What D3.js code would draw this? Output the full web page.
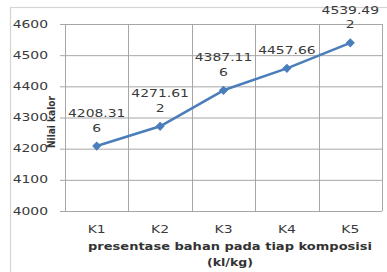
<!DOCTYPE html>
<html>
<head>
<meta charset="utf-8">
<script src="https://cdn.jsdelivr.net/npm/d3@7"></script>
<style>
  html, body { margin: 0; padding: 0; background: #fff; }
  svg { display: block; font-family: "DejaVu Sans", sans-serif; }
</style>
</head>
<body>
<svg id="chart" width="387" height="272"></svg>
<script>
// DATA
const categories = ["K1", "K2", "K3", "K4", "K5"];
const nilaiKalor = [4208.316, 4271.612, 4387.116, 4457.66, 4539.492];
const yTicks = [4000, 4100, 4200, 4300, 4400, 4500, 4600];

const svg = d3.select("#chart");
const plot = { left: 65, right: 382, top: 24, bottom: 211 };
const STRETCH = 1.42; // text in the picture is wide and flat

const x = d3.scaleBand().domain(categories).range([plot.left, plot.right]);
const y = d3.scaleLinear().domain([4000, 4600]).range([plot.bottom, plot.top]);

// outer chart frame (runs off the right and bottom edge)
svg.append("rect")
  .attr("x", 10.5).attr("y", 7.5)
  .attr("width", 420).attr("height", 300)
  .attr("fill", "none")
  .attr("stroke", "#d4d4d4")
  .attr("stroke-width", 1.2);

// ── horizontal gridlines + y axis ──
const yAxis = d3.axisLeft(y).tickValues(yTicks)
  .tickSize(-(plot.right - plot.left)).tickSizeOuter(0).tickPadding(0).tickFormat("");
const gy = svg.append("g").attr("transform", `translate(${plot.left},0)`).call(yAxis);
gy.select(".domain").remove();
gy.selectAll(".tick line").attr("stroke", "#a6a6a6").attr("x1", -5);

svg.append("g").selectAll("text.ylab")
  .data(yTicks).join("text")
  .attr("class", "ylab")
  .attr("transform", d => `translate(48,${y(d) + 3.5}) scale(${STRETCH},1)`)
  .attr("text-anchor", "end")
  .attr("font-size", 9.8)
  .attr("fill", "#3a3a3a")
  .text(d => d);

// ── vertical gridlines (category boundaries) ──
const bounds = categories.map(c => x(c)).concat([plot.right]);
svg.append("g").selectAll("line")
  .data(bounds).join("line")
  .attr("x1", d => Math.round(d) + 0.5).attr("x2", d => Math.round(d) + 0.5)
  .attr("y1", plot.top).attr("y2", plot.bottom)
  .attr("stroke", "#a6a6a6");

// x category labels
svg.append("g").selectAll("text")
  .data(categories).join("text")
  .attr("transform", d => `translate(${x(d) + x.bandwidth() / 2},232.5) scale(${STRETCH},1)`)
  .attr("text-anchor", "middle")
  .attr("font-size", 9.8)
  .attr("fill", "#3a3a3a")
  .text(d => d);

// axis titles
svg.append("text")
  .attr("x", 230).attr("y", 250)
  .attr("text-anchor", "middle")
  .attr("font-size", 10).attr("font-weight", "bold")
  .attr("fill", "#333")
  .attr("textLength", 284).attr("lengthAdjust", "spacingAndGlyphs")
  .text("presentase bahan  pada tiap komposisi");
svg.append("text")
  .attr("x", 230).attr("y", 266)
  .attr("text-anchor", "middle")
  .attr("font-size", 10).attr("font-weight", "bold")
  .attr("fill", "#333")
  .attr("textLength", 46).attr("lengthAdjust", "spacingAndGlyphs")
  .text("(kl/kg)");

svg.append("text")
  .attr("transform", "translate(54.5,122) rotate(-90)")
  .attr("text-anchor", "middle")
  .attr("font-size", 10).attr("font-weight", "bold")
  .attr("fill", "#333")
  .attr("textLength", 52).attr("lengthAdjust", "spacingAndGlyphs")
  .text("Nilai kalor");

// ── series line + diamond markers ──
const cx = (d, i) => x(categories[i]) + x.bandwidth() / 2;
const line = d3.line().x(cx).y(d => y(d));

svg.append("path")
  .datum(nilaiKalor)
  .attr("d", line)
  .attr("fill", "none")
  .attr("stroke", "#4a7ebb")
  .attr("stroke-width", 2.6)
  .attr("stroke-linejoin", "round");

// Excel-style diamond = square turned 45°
svg.append("g").selectAll("path")
  .data(nilaiKalor).join("path")
  .attr("d", d3.symbol().type(d3.symbolSquare).size(30))
  .attr("transform", (d, i) => `translate(${cx(d, i)},${y(d)}) rotate(45)`)
  .attr("fill", "#4a7ebb")
  .attr("stroke", "#4a7ebb");

// ── data labels, wrapped after 7 characters like the original ──
const labelLines = v => {
  const s = String(v);
  return s.length > 7 ? [s.slice(0, 7), s.slice(7)] : [s];
};
const lab = svg.append("g").selectAll("g")
  .data(nilaiKalor).join("g");
lab.each(function (d, i) {
  const lines = labelLines(d);
  const g = d3.select(this);
  lines.forEach((t, k) => {
    const off = (lines.length - 1 - k) * 14.5 + 14.5;
    g.append("text")
      .attr("transform", `translate(${cx(d, i)},${y(d) - off}) scale(${STRETCH},1)`)
      .attr("text-anchor", "middle")
      .attr("font-size", 9.8)
      .attr("fill", "#3a3a3a")
      .text(t);
  });
});
</script>
</body>
</html>
